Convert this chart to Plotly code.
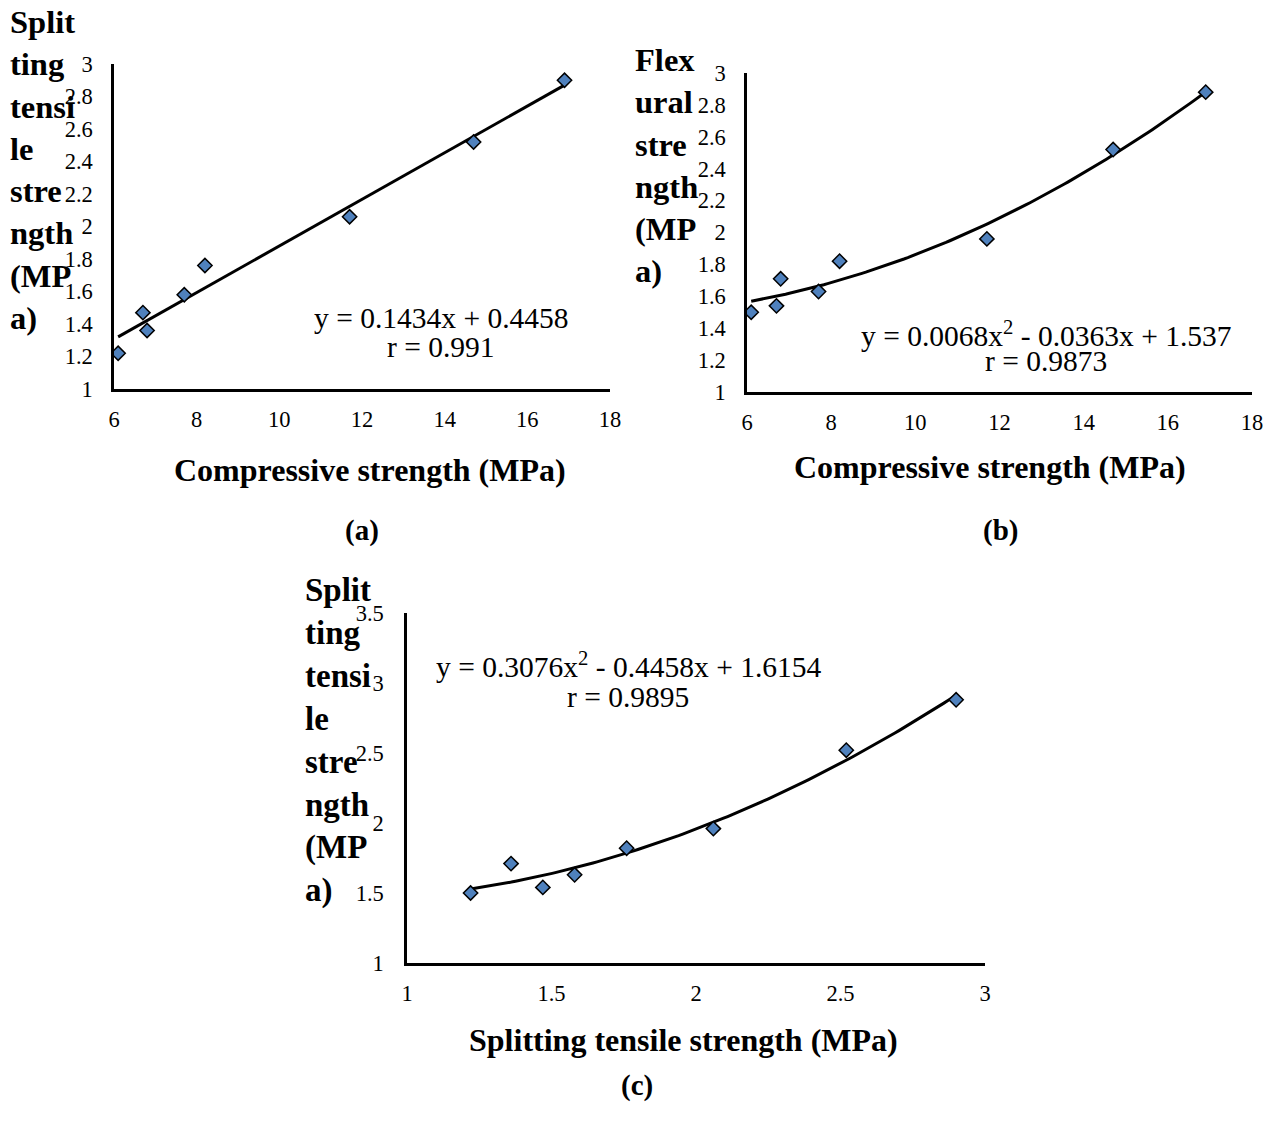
import numpy as np
import plotly.graph_objects as go

# ---------------- data ----------------
compressive = [6.1, 6.7, 6.8, 7.7, 8.2, 11.7, 14.7, 16.9]
splitting = [1.22, 1.47, 1.36, 1.58, 1.76, 2.06, 2.52, 2.90]
flexural = [1.50, 1.54, 1.71, 1.63, 1.82, 1.96, 2.52, 2.88]

eq_a = ["y = 0.1434x + 0.4458", "r = 0.991"]
eq_b = ["y = 0.0068x<sup>2</sup> - 0.0363x + 1.537", "r = 0.9873"]
eq_c = ["y = 0.3076x<sup>2</sup> - 0.4458x + 1.6154", "r = 0.9895"]

xt_ab = [6, 8, 10, 12, 14, 16, 18]
yt_ab = [1, 1.2, 1.4, 1.6, 1.8, 2, 2.2, 2.4, 2.6, 2.8, 3]
xt_c = [1, 1.5, 2, 2.5, 3]
yt_c = [1, 1.5, 2, 2.5, 3, 3.5]

# ---------------- layout helpers ----------------
W, H = 1273, 1128
def px(x):
    return x / W
def py(y):
    return 1 - y / H

SERIF = "Liberation Serif, Times New Roman, serif"
MARKER = dict(symbol="diamond", size=11, color="#4F81BD",
              line=dict(color="black", width=1.5))

fig = go.Figure()

def add_panel(x, y, deg, k):
    xa = "x" if k == 1 else f"x{k}"
    ya = "y" if k == 1 else f"y{k}"
    coef = np.polyfit(x, y, deg)
    xs = np.linspace(min(x), max(x), 120)
    fig.add_trace(go.Scatter(x=xs, y=np.polyval(coef, xs), mode="lines",
                             line=dict(color="black", width=3),
                             xaxis=xa, yaxis=ya, showlegend=False,
                             hoverinfo="skip"))
    fig.add_trace(go.Scatter(x=x, y=y, mode="markers", marker=MARKER,
                             xaxis=xa, yaxis=ya, showlegend=False))

add_panel(compressive, splitting, 1, 1)
add_panel(compressive, flexural, 2, 2)
add_panel(splitting, flexural, 2, 3)

def axis_common():
    return dict(showgrid=False, zeroline=False, showline=True, automargin=False,
                linecolor="black", linewidth=2.5, ticks="",
                tickfont=dict(family=SERIF, size=22.5, color="black"))

layout = dict(
    width=W, height=H, margin=dict(l=0, r=0, t=0, b=0, autoexpand=False),
    paper_bgcolor="white", plot_bgcolor="white", showlegend=False,
    template="none",
)

# panel (a)
layout["xaxis"] = dict(axis_common(), domain=[px(114), px(610)], range=[6, 18],
                       tickvals=xt_ab, anchor="y", ticklabelstandoff=8)
layout["yaxis"] = dict(axis_common(), domain=[py(389), py(64)], range=[1, 3],
                       tickvals=yt_ab, anchor="x", ticklabelstandoff=14)
# panel (b)
layout["xaxis2"] = dict(axis_common(), domain=[px(747), px(1252)], range=[6, 18],
                        tickvals=xt_ab, anchor="y2", ticklabelstandoff=8)
layout["yaxis2"] = dict(axis_common(), domain=[py(392), py(73)], range=[1, 3],
                        tickvals=yt_ab, anchor="x2", ticklabelstandoff=14)
# panel (c)
layout["xaxis3"] = dict(axis_common(), domain=[px(407), px(985)], range=[1, 3],
                        tickvals=xt_c, anchor="y3", ticklabelstandoff=8)
layout["yaxis3"] = dict(axis_common(), domain=[py(963), py(613)], range=[1, 3.5],
                        tickvals=yt_c, anchor="x3", ticklabelstandoff=16)

fig.update_layout(**layout)

def ann(text, x, y, size, xanchor="center", yanchor="middle", align="center"):
    fig.add_annotation(text=text, x=px(x), y=py(y), xref="paper", yref="paper",
                       showarrow=False, xanchor=xanchor, yanchor=yanchor,
                       align=align, font=dict(family=SERIF, size=size, color="black"))

# y-axis titles (wrapped)
ann("<b>Split<br>ting<br>tensi<br>le<br>stre<br>ngth<br>(MP<br>a)</b>", 8, 170, 32.5,
    xanchor="left", align="left")
ann("<b>Flex<br>ural<br>stre<br>ngth<br>(MP<br>a)</b>", 633, 165, 32.5,
    xanchor="left", align="left")
ann("<b>Split<br>ting<br>tensi<br>le<br>stre<br>ngth<br>(MP<br>a)</b>", 303, 740, 33,
    xanchor="left", align="left")

# x-axis titles
ann("<b>Compressive strength (MPa)</b>", 370, 470, 32)
ann("<b>Compressive strength (MPa)</b>", 990, 467, 32)
ann("<b>Splitting tensile strength (MPa)</b>", 683, 1040, 32)

# panel labels
ann("<b>(a)</b>", 362, 530, 29)
ann("<b>(b)</b>", 1000, 530, 29)
ann("<b>(c)</b>", 637, 1085, 29)

# equations
ann(eq_a[0], 441, 318, 29.5)
ann(eq_a[1], 441, 347, 29.5)
ann(eq_b[0], 1046, 334, 29.5)
ann(eq_b[1], 1046, 361, 29.5)
ann(eq_c[0], 629, 665, 29.5)
ann(eq_c[1], 628, 697, 29.5)

fig.write_html(
    "out.html",
    post_script="document.documentElement.style.margin='0';"
                "document.body.style.margin='0';"
                "document.body.style.overflow='hidden';",
)
